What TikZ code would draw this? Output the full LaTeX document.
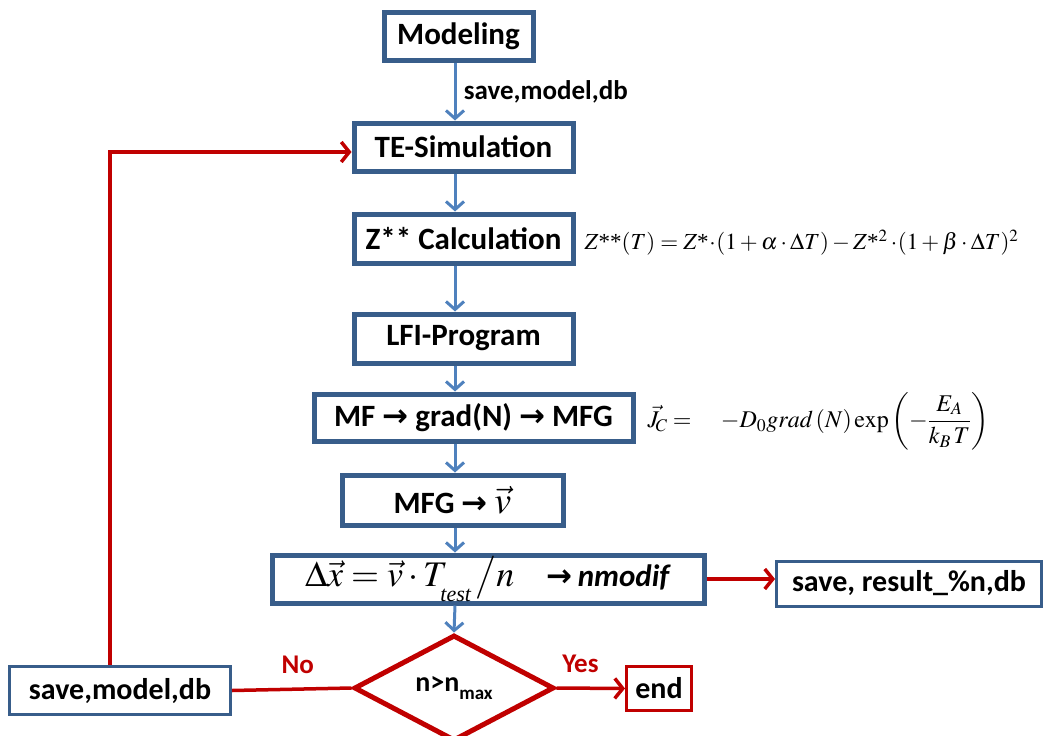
\documentclass[tikz,border=0pt]{standalone}
\usepackage{mathptmx}
\usepackage{fontspec}
\setmainfont{Carlito}
\newfontfamily\dejavu{DejaVu Sans}
\newfontfamily\tnr{Liberation Serif}
\usetikzlibrary{arrows.meta,shapes.geometric,calc}
\definecolor{boxblue}{RGB}{56,93,138}
\definecolor{arrblue}{RGB}{79,129,189}
\definecolor{myred}{RGB}{192,0,0}
\newcommand{\rarr}{{\dejavu\bfseries →}}
\newcommand{\tast}{\mbox{\tnr *}}
\begin{document}
\begin{tikzpicture}[x=1pt,y=-1pt,
  mainbox/.style={draw=boxblue, line width=5pt, fill=white, inner sep=0pt,
    font=\fontsize{31}{36}\selectfont\bfseries},
  thinbox/.style={draw=boxblue, line width=3pt, fill=white, inner sep=0pt,
    font=\fontsize{30}{36}\selectfont\bfseries},
  flow/.style={draw=arrblue, line width=3pt, -{Straight Barb[length=8pt,width=18pt]}},
  redflow/.style={draw=myred, line width=3.5pt, -{Straight Barb[length=8pt,width=20pt]}},
  redline/.style={draw=myred, line width=3.5pt},
  lbl/.style={font=\fontsize{27}{32}\selectfont\bfseries},
  formula/.style={anchor=west, inner sep=0pt},
]
\useasboundingbox (0,0) rectangle (1045,736);

\coordinate (ax) at (455,0);

\node[mainbox, minimum width=149pt, minimum height=48pt] (model) at (458.5,36) {Modeling};
\node[mainbox, minimum width=219pt, minimum height=48pt] (te) at (463.5,147) {TE-Simulation};
\node[mainbox, minimum width=219pt, minimum height=49pt] (zc) at (463.5,238.5) {Z** Calculation};
\node[mainbox, minimum width=219pt, minimum height=49pt] (lfi) at (463.5,338.5) {LFI-Program};
\node[mainbox, minimum width=319pt, minimum height=47pt] (mf) at (473.5,417.5) {MF \rarr\ grad(N) \rarr\ MFG};
\node[mainbox, minimum width=221pt, minimum height=50pt] (mfg) at (452.5,500) {MFG \rarr\ \fontsize{38}{40}\selectfont$\vec{v}$};
\node[mainbox, minimum width=432pt, minimum height=48pt] (dx) at (488,579)
  {\fontsize{36}{40}\selectfont$\Delta\vec{x} = \vec{v}\cdot T_{\raisebox{-0.25em}{\fontsize{22}{24}\tnr\mdseries\itshape test}}\,\big/ n$\hspace{0.9em}{\fontsize{31}{36}\selectfont\rarr\,\textit{nmodif}}};
\node[thinbox, minimum width=265pt, minimum height=45pt] (res) at (909,583.5) {save, result\_\%n,db};
\node[draw=myred, line width=5pt, fill=white, diamond, minimum width=200pt, minimum height=106pt, inner sep=0pt,
  font=\fontsize{28}{32}\selectfont\bfseries] (dia) at (454,688)
  {n>n\raisebox{-0.3em}{\fontsize{19}{20}\selectfont max}};
\node[thinbox, minimum width=221pt, minimum height=48pt] (smd) at (120,690.5) {save,model,db};
\node[draw=myred, line width=3pt, fill=white, inner sep=0pt, minimum width=65pt, minimum height=44pt,
  font=\fontsize{30}{36}\selectfont\bfseries] (end) at (659,688.5) {end};

% blue flow arrows
\draw[flow] (model.south -| ax) -- node[lbl, right, xshift=4pt] (l1) {save,model,db} (te.north -| ax);
\draw[flow] (te.south -| ax) -- (zc.north -| ax);
\draw[flow] (zc.south -| ax) -- (lfi.north -| ax);
\draw[flow] (lfi.south -| ax) -- (mf.north -| ax);
\draw[flow] (mf.south -| ax) -- (mfg.north -| ax);
\draw[flow] (mfg.south -| ax) -- (dx.north -| ax);
\draw[flow] (dx.south -| ax) -- (dia.north);

% red connectors
\draw[redflow] (dx.east) -- (res.west |- dx.east);
\draw[redflow] (dia.east) -- node[lbl, text=myred, above, yshift=10pt, pos=0.35] (yes) {Yes} (end.west);
\draw[redline] (smd.east) -- node[lbl, text=myred, above, yshift=10pt, pos=0.55] (no) {No} (dia.west);
\coordinate (up) at (110,152);
\draw[redflow] (smd.north -| up) -- (up) -- (te.west |- up);

% formulas
\node[formula, font=\fontsize{23}{28}\selectfont] (f1) at ($(zc.east)+(9,4)$)
  {$Z\tast\tast(T) = Z\tast\!\cdot\!(1+\alpha\cdot\Delta T) - Z\tast^{2}\cdot\!(1+\beta\cdot\Delta T)^2$};
\node[formula, font=\fontsize{24}{30}\selectfont] (f2) at ($(mf.east)+(12,4)$)
  {$\vec{J}_{\!C} = \quad -D_0 grad\,(N)\exp\left(-\displaystyle\frac{E_A}{k_B\,T}\right)$};
\end{tikzpicture}
\end{document}
